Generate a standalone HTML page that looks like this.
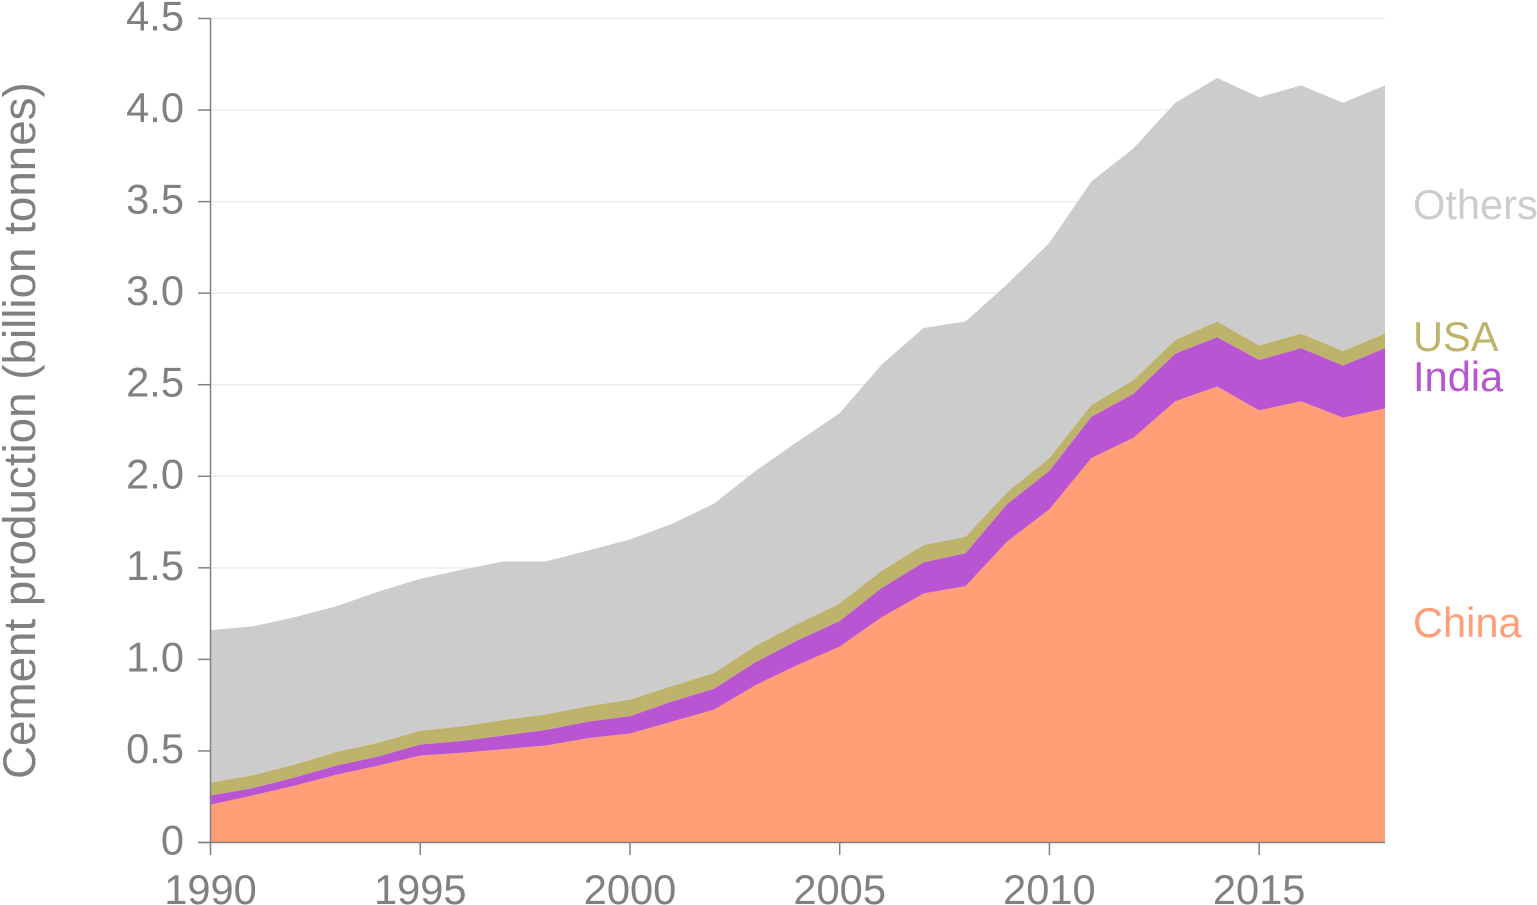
<!DOCTYPE html>
<html lang="en">
<head>
<meta charset="utf-8">
<title>Cement production</title>
<style>
html,body{margin:0;padding:0;background:#fff}
svg{display:block}
text{font-family:"Liberation Sans",Arial,sans-serif;font-size:41.6px}
</style>
</head>
<body>
<svg id="chart" xmlns="http://www.w3.org/2000/svg" width="1537" height="905" viewBox="0 0 1537 905"></svg>
<script>
const years = [1990,1991,1992,1993,1994,1995,1996,1997,1998,1999,2000,2001,2002,2003,2004,2005,2006,2007,2008,2009,2010,2011,2012,2013,2014,2015,2016,2017,2018];
const china = [0.207,0.257,0.31,0.37,0.42,0.475,0.49,0.51,0.53,0.57,0.595,0.66,0.725,0.86,0.97,1.07,1.23,1.36,1.40,1.645,1.82,2.10,2.21,2.41,2.49,2.36,2.41,2.32,2.37];
const india = [0.05,0.04,0.045,0.05,0.05,0.06,0.065,0.075,0.085,0.09,0.095,0.11,0.115,0.125,0.135,0.14,0.16,0.17,0.18,0.205,0.21,0.225,0.24,0.26,0.27,0.275,0.29,0.285,0.33];
const usa = [0.07,0.07,0.07,0.075,0.075,0.075,0.08,0.085,0.085,0.085,0.09,0.085,0.085,0.09,0.09,0.095,0.095,0.095,0.09,0.065,0.07,0.065,0.075,0.075,0.085,0.08,0.08,0.08,0.08];
const others = [0.833,0.813,0.805,0.795,0.825,0.83,0.855,0.865,0.835,0.85,0.875,0.885,0.925,0.955,0.995,1.04,1.125,1.185,1.175,1.135,1.175,1.22,1.265,1.295,1.33,1.355,1.355,1.355,1.355];
const yTicks = [0,0.5,1,1.5,2,2.5,3,3.5,4,4.5];
const yTickLabels = ["0","0.5","1.0","1.5","2.0","2.5","3.0","3.5","4.0","4.5"];
const xTicks = [1990,1995,2000,2005,2010,2015];

const svg = document.getElementById('chart');
const NS = 'http://www.w3.org/2000/svg';
const AXIS = '#808080';
function x(year){ return 210.5 + (year - 1990) * (1385 - 210.5) / 28; }
function y(v){ return 842.5 - v * (842.5 - 18.5) / 4.5; }
function make(tag, attrs, parent){
  const el = document.createElementNS(NS, tag);
  for (const k in attrs) el.setAttribute(k, attrs[k]);
  (parent || svg).appendChild(el);
  return el;
}

// gridlines
yTicks.forEach(function(t, i){
  if (i === 0) return;
  const g = make('line', {x1:210.5, x2:1385, y1:y(t), y2:y(t), stroke:'#ececec', 'stroke-width':1.5});
  
  
});

// stacked areas
const stackSeries = [
  {key:'china', values:china, color:'#ff9e77'},
  {key:'india', values:india, color:'#b955d2'},
  {key:'usa', values:usa, color:'#bdb36b'},
  {key:'others', values:others, color:'#cccccc'}
];
let base = years.map(function(){ return 0; });
stackSeries.forEach(function(s){
  const top = base.map(function(b, i){ return b + s.values[i]; });
  let d = '';
  years.forEach(function(yr, i){ d += (i ? 'L' : 'M') + x(yr).toFixed(2) + ' ' + y(top[i]).toFixed(2); });
  for (let i = years.length - 1; i >= 0; i--) d += 'L' + x(years[i]).toFixed(2) + ' ' + y(base[i]).toFixed(2);
  const p = make('path', {d:d + 'Z', fill:s.color});
  
  
  base = top;
});

// axes
const yAxis = make('line', {x1:210.5, x2:210.5, y1:y(4.5), y2:y(0), stroke:AXIS, 'stroke-width':1.5});


const xAxis = make('line', {x1:198, x2:1385, y1:y(0), y2:y(0), stroke:AXIS, 'stroke-width':1.5});



yTicks.forEach(function(t, i){
  const tick = make('line', {x1:198, x2:210.5, y1:y(t), y2:y(t), stroke:AXIS, 'stroke-width':1.5});
  
  
  const lab = make('text', {x:184, y:y(t) + 12, 'text-anchor':'end', fill:AXIS});
  lab.textContent = yTickLabels[i];
  
  
});
xTicks.forEach(function(t){
  const tick = make('line', {x1:x(t), x2:x(t), y1:842.5, y2:855, stroke:AXIS, 'stroke-width':1.5});
  
  
  const lab = make('text', {x:x(t), y:904, 'text-anchor':'middle', fill:AXIS});
  lab.textContent = String(t);
  
  
});

// y axis title
const title = make('text', {transform:'translate(35,779) rotate(-90)', fill:AXIS, style:'font-size:45.75px'});
title.textContent = 'Cement production (billion tonnes)';



// direct labels
const seriesLabels = ['Others','USA','India','China'];
const labelColors = ['#cccccc','#bdb36b','#b955d2','#ff9e77'];
const labelBaselines = [219,351,391,637];
seriesLabels.forEach(function(name, i){
  const t = make('text', {x:1413, y:labelBaselines[i], fill:labelColors[i]});
  t.textContent = name;
  
  
});
</script>
</body>
</html>
